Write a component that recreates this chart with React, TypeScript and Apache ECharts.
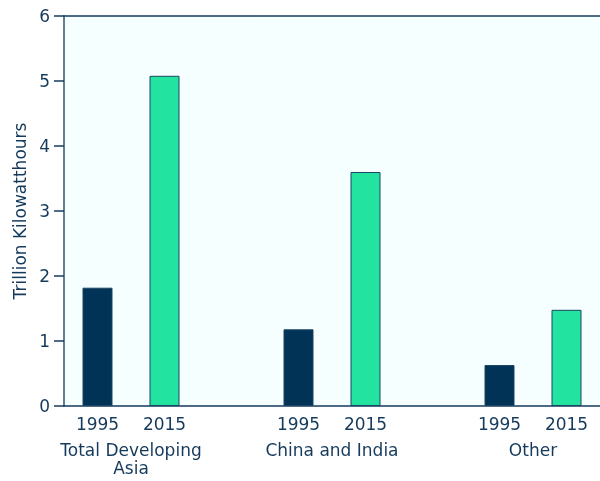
import React, { useEffect, useRef } from "react";
import * as echarts from "echarts";

const yearLabels = ["1995", "2015", "", "1995", "2015", "", "1995", "2015"];
const values: (number | null)[] = [1.82, 5.08, null, 1.18, 3.6, null, 0.63, 1.48];
const groupNames = ["Total Developing\nAsia", "China and India", "Other"];
const groupPositions = [0.5, 3.5, 6.5];
const yTicks = [0, 1, 2, 3, 4, 5, 6];

const TEXT = "#153a5c";
const DARK = "#003355";
const GREEN = "#22e3a0";
const FONT = "DejaVu Sans, Liberation Sans, Arial, sans-serif";

export default function App() {
  const ref = useRef<HTMLDivElement>(null);
  useEffect(() => {
    const chart = echarts.init(ref.current!, null, { renderer: "svg" });
    chart.setOption({
      animation: false,
      grid: {
        left: 64,
        right: 0,
        top: 16,
        bottom: 75,
        show: true,
        backgroundColor: "#f5ffff",
        borderWidth: 0,
      },
      xAxis: [
        {
          type: "category",
          data: yearLabels,
          position: "bottom",
          axisLine: { show: true, lineStyle: { color: TEXT, width: 1.5 } },
          axisTick: { show: false },
          axisLabel: {
            color: TEXT,
            fontSize: 17,
            fontFamily: FONT,
            margin: 9,
            interval: 0,
          },
        },
        {
          type: "value",
          min: -0.5,
          max: 7.5,
          position: "bottom",
          offset: 26,
          axisLine: { show: false },
          axisTick: { show: false },
          splitLine: { show: false },
          axisLabel: {
            customValues: groupPositions,
            color: TEXT,
            fontSize: 17,
            lineHeight: 18,
            fontFamily: FONT,
            margin: 9,
            formatter: (v: number) => {
              const i = groupPositions.findIndex((p) => Math.abs(p - v) < 1e-6);
              return i >= 0 ? groupNames[i] : "";
            },
          },
        },
        {
          type: "value",
          min: 0,
          max: 1,
          position: "top",
          axisLine: { show: true, onZero: false, lineStyle: { color: TEXT, width: 1.5 } },
          axisTick: { show: false },
          axisLabel: { show: false },
          splitLine: { show: false },
        },
      ],
      yAxis: {
        type: "value",
        min: 0,
        max: 6,
        interval: 1,
        name: "Trillion Kilowatthours",
        nameLocation: "middle",
        nameGap: 33,
        nameTextStyle: {
          color: TEXT,
          fontSize: 17,
          fontFamily: FONT,
        },
        axisLine: { show: true, onZero: false, lineStyle: { color: "#5f7f95", width: 2 } },
        axisTick: { show: true, length: 10, lineStyle: { color: TEXT, width: 1.5 } },
        splitLine: { show: false },
        axisLabel: {
          color: TEXT,
          fontSize: 17,
          fontFamily: FONT,
          margin: 14,
          customValues: yTicks,
        },
      },
      series: [
        {
          type: "bar",
          xAxisIndex: 0,
          barWidth: 30,
          data: values.map((v, i) => ({
            value: v,
            itemStyle:
              yearLabels[i] === "1995"
                ? { color: DARK, borderColor: "#1b4563", borderWidth: 1 }
                : { color: GREEN, borderColor: "#1b4563", borderWidth: 1 },
          })),
        },
      ],
    });
    return () => chart.dispose();
  }, []);
  return (
    <div
      ref={ref}
      style={{ position: "fixed", left: 0, top: 0, width: 600, height: 481 }}
    />
  );
}
